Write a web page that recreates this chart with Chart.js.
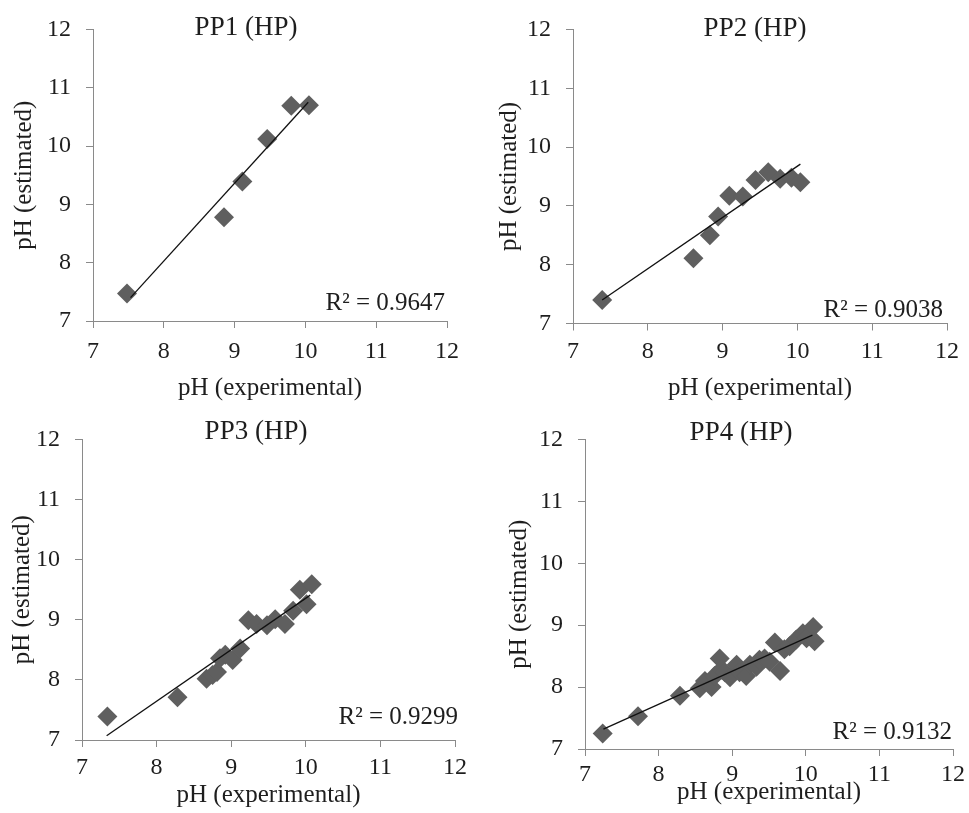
<!DOCTYPE html>
<html>
<head>
<meta charset="utf-8">
<title>pH estimated vs experimental</title>
<script src="https://cdn.jsdelivr.net/npm/chart.js@4.4.1/dist/chart.umd.min.js"></script>
<style>
  html, body { margin: 0; padding: 0; background: #ffffff; }
  body { width: 969px; height: 813px; position: relative; overflow: hidden; }
  .panel { position: absolute; }
</style>
</head>
<body>
<div class="panel" id="panel1"><canvas id="chart1"></canvas></div>
<div class="panel" id="panel2"><canvas id="chart2"></canvas></div>
<div class="panel" id="panel3"><canvas id="chart3"></canvas></div>
<div class="panel" id="panel4"><canvas id="chart4"></canvas></div>
<script>
// ============================================
// Data
// ============================================

const axisMin = 7;
const axisMax = 12;
const xAxisTitle = 'pH (experimental)';
const yAxisTitle = 'pH (estimated)';

const panelTitles = ['PP1 (HP)', 'PP2 (HP)', 'PP3 (HP)', 'PP4 (HP)'];
const r2Labels = ['R\u00B2 = 0.9647', 'R\u00B2 = 0.9038', 'R\u00B2 = 0.9299', 'R\u00B2 = 0.9132'];

// PP1
const pp1X = [7.48, 8.85, 9.11, 9.46, 9.80, 10.05];
const pp1Y = [7.47, 8.78, 9.39, 10.12, 10.69, 10.70];
const pp1FitX = [7.53, 10.04];
const pp1FitY = [7.40, 10.75];

// PP2
const pp2X = [7.39, 8.61, 8.83, 8.94, 9.09, 9.27, 9.44, 9.61, 9.77, 9.92, 10.04];
const pp2Y = [7.40, 8.11, 8.50, 8.82, 9.17, 9.16, 9.44, 9.57, 9.46, 9.48, 9.40];
const pp2FitX = [7.39, 10.04];
const pp2FitY = [7.40, 9.71];

// PP3
const pp3X = [7.34, 8.28, 8.67, 8.75, 8.81, 8.85, 8.92, 9.02, 9.12, 9.23, 9.34, 9.48, 9.59, 9.72, 9.83, 9.92, 10.01, 10.08];
const pp3Y = [7.39, 7.71, 8.02, 8.08, 8.13, 8.36, 8.42, 8.33, 8.52, 8.99, 8.93, 8.91, 9.01, 8.93, 9.15, 9.50, 9.26, 9.59];
const pp3FitX = [7.33, 10.06];
const pp3FitY = [7.07, 9.41];

// PP4
const pp4X = [7.24, 7.72, 8.29, 8.56, 8.63, 8.72, 8.76, 8.83, 8.85, 8.90, 8.97, 9.06, 9.10, 9.19, 9.24, 9.33, 9.37, 9.44, 9.51, 9.58, 9.65, 9.71, 9.78, 9.87, 9.96, 10.01, 10.10, 10.12];
const pp4Y = [7.25, 7.53, 7.86, 7.98, 8.10, 8.00, 8.18, 8.46, 8.28, 8.24, 8.16, 8.36, 8.24, 8.18, 8.36, 8.33, 8.44, 8.46, 8.41, 8.72, 8.26, 8.61, 8.66, 8.77, 8.87, 8.79, 8.97, 8.74];
const pp4FitX = [7.25, 10.09];
const pp4FitY = [7.32, 8.84];

// ============================================
// Layout of the four panels (page pixels)
// ============================================

const panelLayouts = [
    { box: [0, 0, 480, 410],     plot: [93, 19, 447, 321],    yTitlePad: 9,  xTickPad: 9, xTitlePad: 7, titleAt: [246, 28],  r2At: [445, 303] },
    { box: [480, 0, 489, 410],   plot: [573, 23.5, 947, 323.5], yTitlePad: 14, xTickPad: 7, xTitlePad: 7, titleAt: [755, 29],  r2At: [943, 310] },
    { box: [0, 410, 480, 403],   plot: [82, 434, 455, 740],   yTitlePad: 7,  xTickPad: 6, xTitlePad: 3, titleAt: [256, 432], r2At: [458, 717] },
    { box: [480, 410, 489, 403], plot: [585, 421.5, 954, 749], yTitlePad: 24, xTickPad: 4, xTitlePad: 6, titleAt: [741, 433], r2At: [952, 732] }
];

const serif = '"Liberation Serif", "Times New Roman", serif';
const textColor = '#1e1e1e';
const axisColor = '#8a8a8a';
const markerColor = '#5f5f5f';

// ============================================
// Helpers
// ============================================

function toPoints(xs, ys) {
    return xs.map((x, i) => ({ x: x, y: ys[i] }));
}

// Draws the panel title and the R² label of the trendline
function panelTextPlugin(index) {
    const layout = panelLayouts[index];
    return {
        id: 'panelText' + index,
        afterDraw(chart) {
            const ctx = chart.ctx;
            ctx.save();
            ctx.fillStyle = textColor;
            ctx.textBaseline = 'middle';

            ctx.font = '27px ' + serif;
            ctx.textAlign = 'center';
            ctx.fillText(panelTitles[index], layout.titleAt[0] - layout.box[0], layout.titleAt[1] - layout.box[1]);

            ctx.font = '25px ' + serif;
            ctx.textAlign = 'right';
            ctx.fillText(r2Labels[index], layout.r2At[0] - layout.box[0], layout.r2At[1] - layout.box[1]);
            ctx.restore();
        }
    };
}

function buildChart(index, xs, ys, fitX, fitY) {
    const layout = panelLayouts[index];
    const [bl, bt, bw, bh] = layout.box;
    const [pl, pt, pr, pb] = layout.plot;

    const holder = document.getElementById('panel' + (index + 1));
    holder.style.left = bl + 'px';
    holder.style.top = bt + 'px';
    holder.style.width = bw + 'px';
    holder.style.height = bh + 'px';

    const tickFont = { family: serif, size: 24 };
    const titleFont = { family: serif, size: 25, lineHeight: 1.2 };

    return new Chart(document.getElementById('chart' + (index + 1)), {
        type: 'scatter',
        data: {
            datasets: [
                {
                    label: 'trend',
                    data: toPoints(fitX, fitY),
                    showLine: true,
                    pointRadius: 0,
                    borderColor: '#111111',
                    borderWidth: 1.3,
                    order: 0
                },
                {
                    label: 'samples',
                    data: toPoints(xs, ys),
                    pointStyle: 'rectRot',
                    pointRadius: 10,
                    pointBackgroundColor: markerColor,
                    pointBorderWidth: 0,
                    order: 1
                }
            ]
        },
        options: {
            responsive: true,
            maintainAspectRatio: false,
            animation: false,
            layout: { padding: { left: 0, bottom: 0, top: pt - bt, right: bl + bw - pr } },
            plugins: {
                legend: { display: false },
                tooltip: { enabled: false }
            },
            scales: {
                x: {
                    type: 'linear',
                    min: axisMin,
                    max: axisMax,
                    afterFit: (scale) => { scale.height = bt + bh - pb; },
                    ticks: { stepSize: 1, color: textColor, font: tickFont, padding: layout.xTickPad, maxRotation: 0 },
                    grid: { drawOnChartArea: false, drawTicks: true, tickLength: 7, color: axisColor },
                    border: { display: true, color: axisColor, width: 1 },
                    title: { display: true, text: xAxisTitle, color: textColor, font: titleFont, padding: { top: 0, bottom: layout.xTitlePad } }
                },
                y: {
                    type: 'linear',
                    min: axisMin,
                    max: axisMax,
                    afterFit: (scale) => { scale.width = pl - bl; },
                    ticks: { stepSize: 1, color: textColor, font: tickFont, padding: 15 },
                    grid: { drawOnChartArea: false, drawTicks: true, tickLength: 7, color: axisColor },
                    border: { display: true, color: axisColor, width: 1 },
                    title: { display: true, text: yAxisTitle, color: textColor, font: titleFont, padding: { top: layout.yTitlePad, bottom: 0 } }
                }
            }
        },
        plugins: [panelTextPlugin(index)]
    });
}

// ============================================
// Initialization
// ============================================

buildChart(0, pp1X, pp1Y, pp1FitX, pp1FitY);
buildChart(1, pp2X, pp2Y, pp2FitX, pp2FitY);
buildChart(2, pp3X, pp3Y, pp3FitX, pp3FitY);
buildChart(3, pp4X, pp4Y, pp4FitX, pp4FitY);
</script>
</body>
</html>
